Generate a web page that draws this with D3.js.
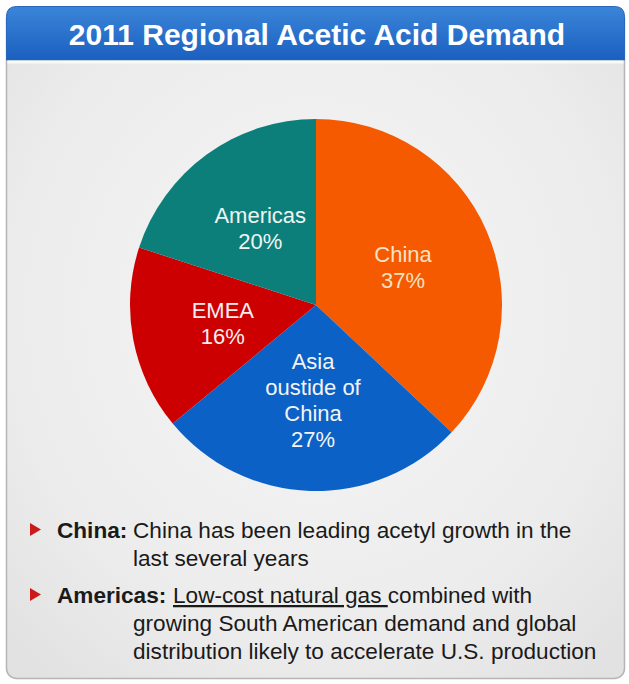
<!DOCTYPE html>
<html>
<head>
<meta charset="utf-8">
<script src="https://cdn.jsdelivr.net/npm/d3@7"></script>
<style>
  html, body { margin: 0; padding: 0; background: #ffffff; }
  svg { display: block; font-family: "Liberation Sans", Arial, sans-serif; }
</style>
</head>
<body>
<svg id="chart" width="629" height="684"></svg>
<script>
// Regional shares of 2011 acetic acid demand (percent), clockwise from 12 o'clock
const regions = ["China", "Asia oustide of China", "EMEA", "Americas"];
const shares = [37, 27, 16, 20];
const labelLines = [["China"], ["Asia", "oustide of", "China"], ["EMEA"], ["Americas"]];
const colors = ["#f55a00", "#0b61c6", "#cc0000", "#0d7f7b"];
const labelColors = ["#f7e1c4", "#f4f4f4", "#f6eeee", "#eef6f4"];

const title = "2011 Regional Acetic Acid Demand";
const notes = [
  { head: "China:", parts: [{ text: "China has been leading acetyl growth in the" }],
    more: ["last several years"] },
  { head: "Americas:", parts: [{ text: "Low-cost natural gas ", underline: true }, { text: "combined with" }],
    more: ["growing South American demand and global", "distribution likely to accelerate U.S. production"] }
];

const W = 629, H = 684;
const svg = d3.select("#chart");
const defs = svg.append("defs");

// panel background
const bg = defs.append("radialGradient").attr("id", "panelBg")
  .attr("cx", "50%").attr("cy", "45%").attr("r", "70%");
bg.append("stop").attr("offset", "0%").attr("stop-color", "#f6f6f6");
bg.append("stop").attr("offset", "70%").attr("stop-color", "#ececec");
bg.append("stop").attr("offset", "100%").attr("stop-color", "#e2e2e2");

const tg = defs.append("linearGradient").attr("id", "titleBg")
  .attr("x1", 0).attr("y1", 0).attr("x2", 0).attr("y2", 1);
tg.append("stop").attr("offset", "0%").attr("stop-color", "#3a85d8");
tg.append("stop").attr("offset", "100%").attr("stop-color", "#1b5fc0");

svg.append("rect")
  .attr("x", 6.5).attr("y", 8.5).attr("width", 618).attr("height", 670)
  .attr("rx", 10).attr("fill", "url(#panelBg)")
  .attr("stroke", "#b5b5b5").attr("stroke-width", 1.5);

// title bar with rounded top corners
const tx0 = 6.5, tx1 = 624.5, ty0 = 6.5, ty1 = 60, r = 10;
svg.append("path")
  .attr("d", `M${tx0},${ty1} L${tx0},${ty0 + r} Q${tx0},${ty0} ${tx0 + r},${ty0} L${tx1 - r},${ty0} Q${tx1},${ty0} ${tx1},${ty0 + r} L${tx1},${ty1} Z`)
  .attr("fill", "url(#titleBg)")
  .attr("stroke", "#2b66bd").attr("stroke-width", 1);
svg.append("line")
  .attr("x1", tx0 + 1).attr("x2", tx1 - 1).attr("y1", ty1 + 2).attr("y2", ty1 + 2)
  .attr("stroke", "#f7fbf2").attr("stroke-width", 3);

svg.append("text")
  .attr("x", 317).attr("y", 45)
  .attr("text-anchor", "middle")
  .attr("font-size", 30).attr("font-weight", "bold")
  .attr("fill", "#ffffff")
  .text(title);

// pie
const cx = 316, cy = 305, R = 186;
const pie = d3.pie().sort(null).value(d => d).startAngle(0).endAngle(2 * Math.PI);
const arcs = pie(shares);
const arc = d3.arc().innerRadius(0).outerRadius(R);
const labelArc = d3.arc().innerRadius(R * 0.51).outerRadius(R * 0.51);

const g = svg.append("g").attr("transform", `translate(${cx},${cy})`);
g.selectAll("path.slice").data(arcs).enter().append("path")
  .attr("class", "slice")
  .attr("d", arc)
  .attr("fill", (d, i) => colors[i]);

const lineH = 26;
g.selectAll("text.lbl").data(arcs).enter().append("text")
  .attr("class", "lbl")
  .attr("text-anchor", "middle")
  .attr("font-size", 22)
  .attr("fill", (d, i) => labelColors[i])
  .each(function (d, i) {
    const [x, y] = labelArc.centroid(d);
    const lines = labelLines[i].concat([shares[i] + "%"]);
    const y0 = y - (lines.length - 1) * lineH / 2 + 8;
    const t = d3.select(this);
    lines.forEach((s, k) => {
      t.append("tspan").attr("x", x).attr("y", y0 + k * lineH).text(s);
    });
  });

// notes below the pie
const fs = 22.6, rowH = 28;
const headX = 57, bodyX = 133, bulletX = 30;
let baseY = 538;
notes.forEach((n, ni) => {
  svg.append("path")
    .attr("d", `M${bulletX},${baseY - 15} L${bulletX + 11},${baseY - 8.5} L${bulletX},${baseY - 2} Z`)
    .attr("fill", "#cc1a1a");
  const t = svg.append("text")
    .attr("x", headX).attr("y", baseY)
    .attr("font-size", fs).attr("fill", "#1a1a1a")
    .attr("xml:space", "preserve").style("white-space", "pre");
  t.append("tspan").attr("font-weight", "bold").text(n.head);
  n.parts.forEach((p, pi) => {
    const ts = t.append("tspan").text(p.text);
    if (pi === 0) ts.attr("x", ni === 0 ? bodyX : headX + 116);
    if (p.underline) ts.attr("text-decoration", "underline");
  });
  n.more.forEach((s, k) => {
    svg.append("text")
      .attr("x", bodyX).attr("y", baseY + (k + 1) * rowH)
      .attr("font-size", fs).attr("fill", "#1a1a1a")
      .text(s);
  });
  baseY += (n.more.length + 1) * rowH + 9;
});
</script>
</body>
</html>
